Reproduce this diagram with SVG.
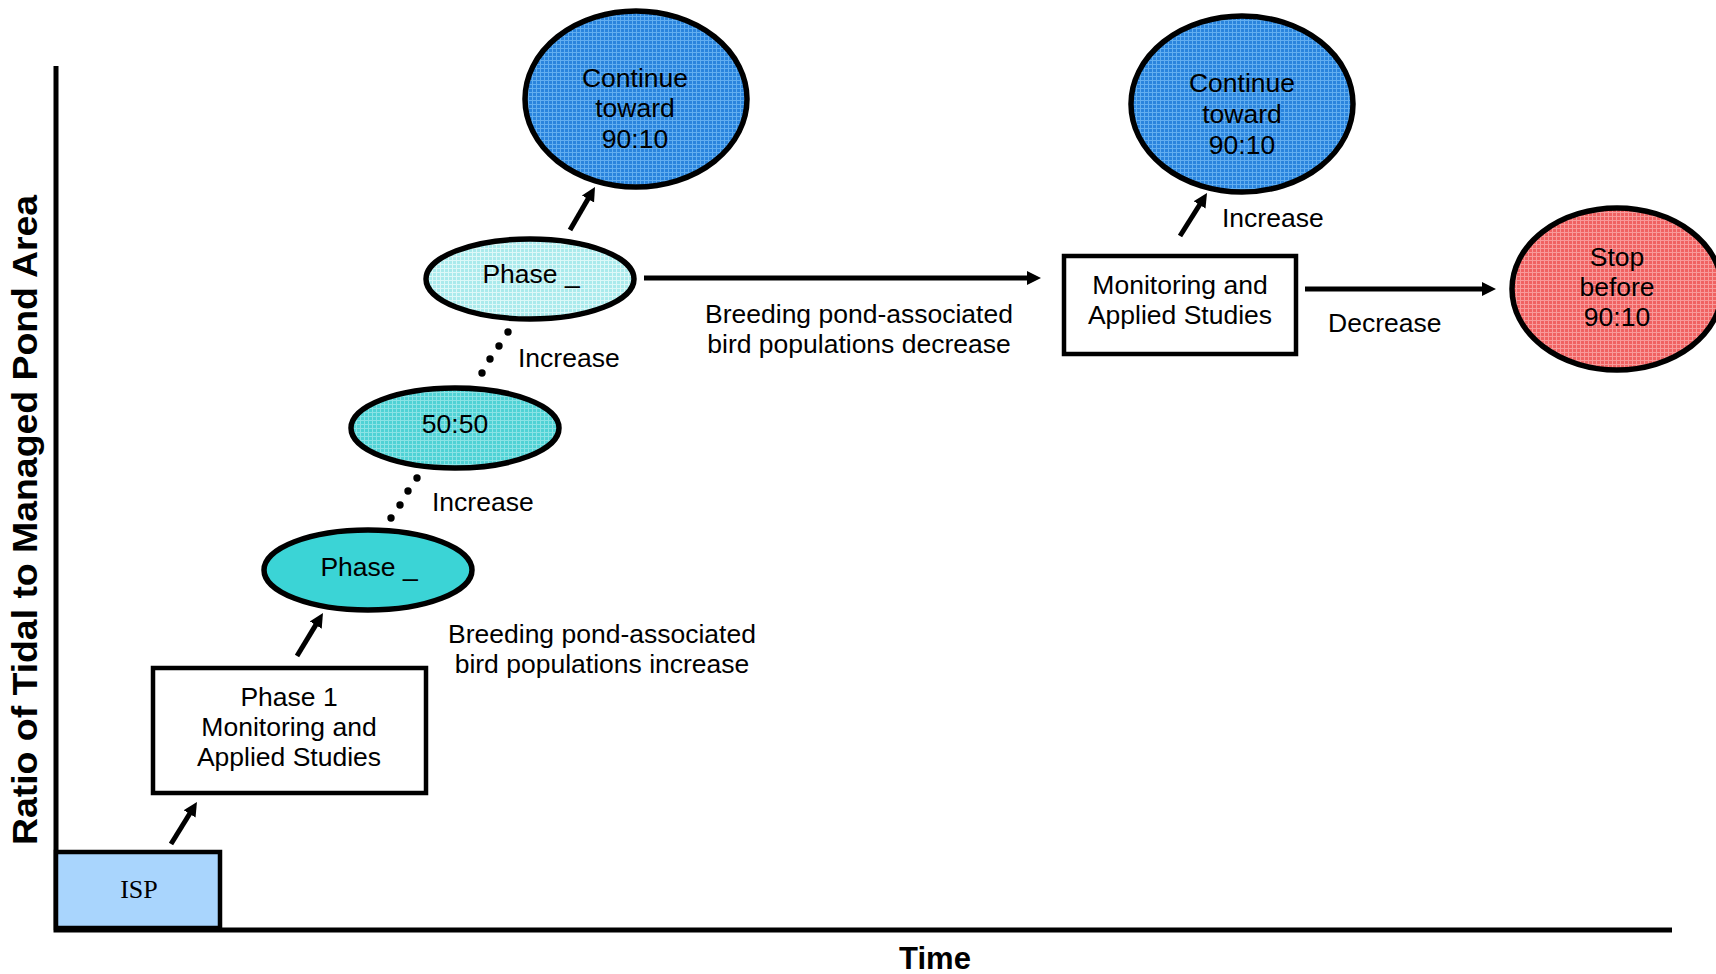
<svg xmlns="http://www.w3.org/2000/svg" width="1716" height="974" viewBox="0 0 1716 974">
<style>
.t{font-family:"Liberation Sans",Arial,sans-serif;font-size:26.5px;fill:#000}
.c{text-anchor:middle}
.b{font-weight:bold}
.shape{stroke:#000;stroke-width:5.5}
.box{fill:#fff;stroke:#000;stroke-width:4.5}
.ln{stroke:#000;stroke-width:5;fill:none;marker-end:url(#ah)}
.axis{stroke:#000;stroke-width:5;fill:none}
.dot{fill:#000}
</style>
<defs>
<marker id="ah" markerUnits="userSpaceOnUse" markerWidth="16" markerHeight="16" viewBox="0 -8 16 16" refX="4" refY="0" orient="auto">
<path d="M0,-7 L14,0 L0,7 z" fill="#000"/>
</marker>
<pattern id="pBlue" width="4" height="4" patternUnits="userSpaceOnUse">
<rect width="4" height="4" fill="#2A84DD"/>
<path d="M0,0.5H4M0.5,0V4" stroke="#62AEF0" stroke-width="1"/>
</pattern>
<pattern id="pLight" width="4" height="4" patternUnits="userSpaceOnUse">
<rect width="4" height="4" fill="#AAEAEC"/>
<path d="M0,0.5H4M0.5,0V4" stroke="#DDF8F8" stroke-width="1"/>
</pattern>
<pattern id="pMid" width="4" height="4" patternUnits="userSpaceOnUse">
<rect width="4" height="4" fill="#4FD2D5"/>
<path d="M0,0.5H4M0.5,0V4" stroke="#8BE3E5" stroke-width="1"/>
</pattern>
<pattern id="pRed" width="4" height="4" patternUnits="userSpaceOnUse">
<rect width="4" height="4" fill="#F06262"/>
<path d="M0,0.5H4M0.5,0V4" stroke="#F89A9A" stroke-width="1"/>
</pattern>
</defs>
<rect width="1716" height="974" fill="#fff"/>

<g id="axes">
<path class="axis" d="M56,66 V930 H1672"/>
<text class="t b" transform="translate(37,520) rotate(-90)" text-anchor="middle" textLength="650" lengthAdjust="spacingAndGlyphs" style="font-size:35px">Ratio of Tidal to Managed Pond Area</text>
<text class="t b c" x="935" y="969" style="font-size:31px">Time</text>
</g>

<g id="connectors">
<line class="ln" x1="171" y1="844" x2="191.7" y2="810.5"/>
<line class="ln" x1="297" y1="656" x2="317.8" y2="621.6"/>
<line class="ln" x1="570" y1="230" x2="590" y2="195.6"/>
<line class="ln" x1="644" y1="278" x2="1031" y2="278"/>
<line class="ln" x1="1180" y1="236" x2="1201.7" y2="201.5"/>
<line class="ln" x1="1305" y1="289" x2="1486" y2="289"/>
<g id="dots1">
<circle class="dot" cx="508" cy="332" r="3.7"/>
<circle class="dot" cx="499" cy="346" r="3.7"/>
<circle class="dot" cx="490" cy="359" r="3.7"/>
<circle class="dot" cx="482" cy="373" r="3.7"/>
</g>
<g id="dots2">
<circle class="dot" cx="417" cy="478" r="3.7"/>
<circle class="dot" cx="408" cy="491" r="3.7"/>
<circle class="dot" cx="400" cy="505" r="3.7"/>
<circle class="dot" cx="391" cy="518" r="3.7"/>
</g>
<text class="t" x="518" y="367">Increase</text>
<text class="t" x="432" y="511">Increase</text>
<text class="t" x="1222" y="227">Increase</text>
<text class="t" x="1328" y="332">Decrease</text>
<text class="t c" x="602" y="643">Breeding pond-associated</text>
<text class="t c" x="602" y="673">bird populations increase</text>
<text class="t c" x="859" y="323">Breeding pond-associated</text>
<text class="t c" x="859" y="353">bird populations decrease</text>
</g>

<g id="isp">
<rect x="56" y="852" width="164" height="76" fill="#A9D5FD" stroke="#000" stroke-width="4.5"/>
<text x="139" y="898" text-anchor="middle" style="font-family:'Liberation Serif','Times New Roman',serif;font-size:26px">ISP</text>
</g>

<g id="phase1">
<rect class="box" x="153" y="668" width="273" height="125"/>
<text class="t c" x="289" y="706">Phase 1</text>
<text class="t c" x="289" y="736">Monitoring and</text>
<text class="t c" x="289" y="766">Applied Studies</text>
</g>

<g id="phaseA">
<ellipse class="shape" cx="368" cy="570" rx="104" ry="40" fill="#3BD4D6"/>
<text class="t c" x="369" y="576">Phase _</text>
</g>

<g id="ratio5050">
<ellipse class="shape" cx="455" cy="428" rx="104" ry="40" fill="url(#pMid)"/>
<text class="t c" x="455" y="433">50:50</text>
</g>

<g id="phaseB">
<ellipse class="shape" cx="530" cy="279" rx="104" ry="40" fill="url(#pLight)"/>
<text class="t c" x="531" y="283">Phase _</text>
</g>

<g id="continue1">
<ellipse class="shape" cx="636" cy="99" rx="111" ry="88" fill="url(#pBlue)"/>
<text class="t c" x="635" y="87">Continue</text>
<text class="t c" x="635" y="117">toward</text>
<text class="t c" x="635" y="148">90:10</text>
</g>

<g id="monitoring">
<rect class="box" x="1064" y="256" width="232" height="98"/>
<text class="t c" x="1180" y="294">Monitoring and</text>
<text class="t c" x="1180" y="324">Applied Studies</text>
</g>

<g id="continue2">
<ellipse class="shape" cx="1242" cy="104" rx="111" ry="88" fill="url(#pBlue)"/>
<text class="t c" x="1242" y="92">Continue</text>
<text class="t c" x="1242" y="123">toward</text>
<text class="t c" x="1242" y="154">90:10</text>
</g>

<g id="stop">
<ellipse class="shape" cx="1617" cy="289" rx="105" ry="81" fill="url(#pRed)"/>
<text class="t c" x="1617" y="266">Stop</text>
<text class="t c" x="1617" y="296">before</text>
<text class="t c" x="1617" y="326">90:10</text>
</g>
</svg>
